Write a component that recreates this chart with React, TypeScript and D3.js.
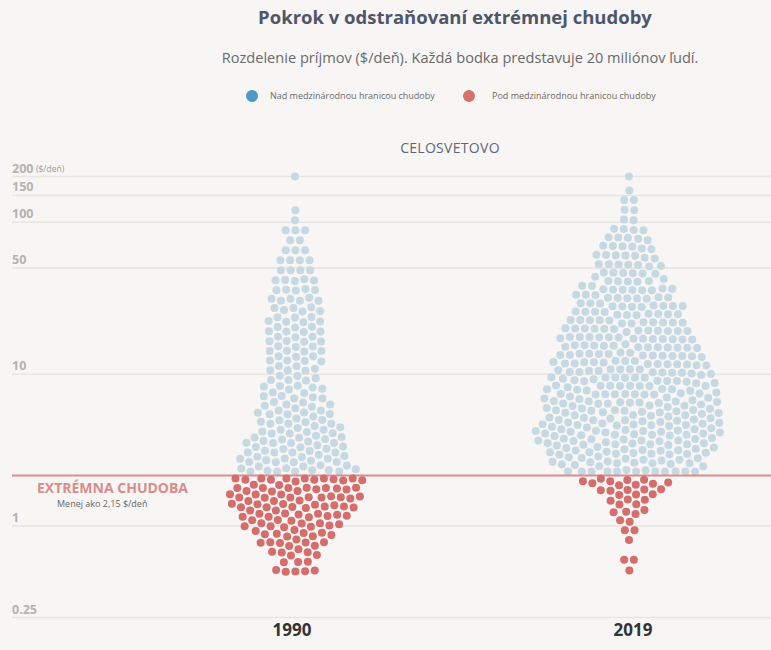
import React, { useMemo } from 'react';
import * as d3 from 'd3';

const years = ['1990', '2019'];
// income levels ($/day) of the dot bands above the poverty line
const aboveLevels = [200, 162, 140, 120, 103, 88.6, 76.2, 65.4, 56.2, 48.3, 41.5, 35.7, 30.7, 26.4, 22.7, 19.5, 16.7, 14.4, 12.4, 10.6, 9.13, 7.85, 6.74, 5.8, 4.98, 4.28, 3.68, 3.16, 2.72, 2.34];
const above1990 = [1, 0, 0, 1, 1, 3, 2, 3, 4, 4, 5, 5, 6, 6, 7, 7, 7, 7, 7, 6, 6, 7, 7, 8, 9, 10, 12, 13, 14, 17];
const above2019 = [1, 1, 2, 2, 2, 4, 5, 6, 7, 8, 9, 10, 11, 12, 13, 14, 16, 17, 19, 20, 21, 22, 23, 24, 25, 25, 24, 21, 17, 12];
// income levels below the poverty line
const belowLevels = [2.01, 1.73, 1.48, 1.27, 1.09, 0.94, 0.81, 0.695, 0.6, 0.51];
const below1990 = [18, 21, 16, 13, 12, 9, 6, 6, 3, 5];
const below2019 = [10, 8, 5, 4, 2, 2, 1, 0, 2, 1];
const tickValues = [200, 150, 100, 50, 10, 1, 0.25];
const tickLabels = ['200', '150', '100', '50', '10', '1', '0.25'];
const povertyLine = 2.15;

const W = 771;
const H = 650;
const FONT = '"Open Sans", "Noto Sans", sans-serif';
const BLUE = '#c6d9e3';
const RED = '#d46d6b';

type Node = { v: number; below: boolean; x: number; y: number };

export default function App() {
  const y = d3.scaleLog().domain([0.25, 200]).range([617.5, 176.5]);
  const x = d3.scalePoint<string>().domain(years).range([295, 629]);
  const lineY = y(povertyLine);

  const swarms = useMemo(() => {
    const series = [
      { year: '1990', above: above1990, below: below1990 },
      { year: '2019', above: above2019, below: below2019 },
    ];
    return series.map((s) => {
      const cx = x(s.year) as number;
      const nodes: Node[] = [];
      const add = (levels: number[], counts: number[], below: boolean) => {
        levels.forEach((v, li) => {
          const n = counts[li];
          for (let j = 0; j < n; j++) {
            nodes.push({ v, below, x: cx + (j - (n - 1) / 2) * 7 + (li % 2) * 3, y: y(v) + ((j * 7) % 5 - 2) * 2 });
          }
        });
      };
      add(aboveLevels, s.above, false);
      add(belowLevels, s.below, true);
      const sim = d3
        .forceSimulation(nodes as any)
        .force('x', d3.forceX(cx).strength(0.03))
        .force('y', d3.forceY((d: any) => y(d.v)).strength(0.3))
        .force('c', d3.forceCollide(4.85).iterations(2))
        .stop();
      for (let i = 0; i < 300; i++) {
        sim.tick();
        nodes.forEach((n) => {
          if (n.below) {
            if (n.y < lineY + 3) n.y = lineY + 3;
          } else if (n.y > lineY - 4) n.y = lineY - 4;
        });
      }
      return { year: s.year, nodes };
    });
  }, []);

  return (
    <svg width={W} height={H} style={{ position: 'absolute', left: 0, top: 0, background: '#f7f6f4' }} fontFamily={FONT}>
      <rect width={W} height={H} fill="#f7f6f4" />
      <text x={455} y={24} textAnchor="middle" fontSize={18.5} fontWeight={700} fill="#50566a">
        Pokrok v odstraňovaní extrémnej chudoby
      </text>
      <text x={460} y={63} textAnchor="middle" fontSize={14.6} fill="#6a6a6a">
        Rozdelenie príjmov ($/deň). Každá bodka predstavuje 20 miliónov ľudí.
      </text>
      <circle cx={252} cy={96} r={6} fill="#4d98c5" />
      <text x={270} y={99} fontSize={9} fill="#6a6a6a">Nad medzinárodnou hranicou chudoby</text>
      <circle cx={469} cy={96} r={6} fill="#d8716d" />
      <text x={492} y={99} fontSize={9} fill="#6a6a6a">Pod medzinárodnou hranicou chudoby</text>

      <text x={450} y={153} textAnchor="middle" fontSize={14} fill="#5f6678" letterSpacing={0.3}>
        CELOSVETOVO
      </text>

      {tickValues.map((t, i) => (
        <g key={t}>
          <line x1={12} x2={W} y1={y(t)} y2={y(t)} stroke="#e7e5e2" strokeWidth={1.5} />
          <text x={12} y={y(t) - 4} fontSize={12.5} fontWeight={700} fill="#b3b3b3">
            {tickLabels[i]}
          </text>
        </g>
      ))}
      <text x={36} y={y(200) - 4.5} fontSize={8.5} fill="#9a9a9a">($/deň)</text>

      {swarms.map((s) =>
        s.nodes
          .filter((n) => !n.below)
          .map((n, i) => <circle key={s.year + 'a' + i} cx={n.x} cy={n.y} r={4} fill={BLUE} />)
      )}
      <line x1={12} x2={W} y1={lineY} y2={lineY} stroke="#dc8c8b" strokeWidth={2} />
      {swarms.map((s) =>
        s.nodes
          .filter((n) => n.below)
          .map((n, i) => <circle key={s.year + 'b' + i} cx={n.x} cy={n.y} r={4} fill={RED} />)
      )}

      <text x={37} y={493} fontSize={14} fontWeight={700} fill="#d98c8a">EXTRÉMNA CHUDOBA</text>
      <text x={57} y={507} fontSize={9} fill="#666">Menej ako 2,15 $/deň</text>

      {years.map((yr) => (
        <text key={yr} x={(x(yr) as number) + (yr === '1990' ? -3 : 4)} y={636} textAnchor="middle" fontSize={17} fontWeight={700} fill="#333">
          {yr}
        </text>
      ))}
    </svg>
  );
}
